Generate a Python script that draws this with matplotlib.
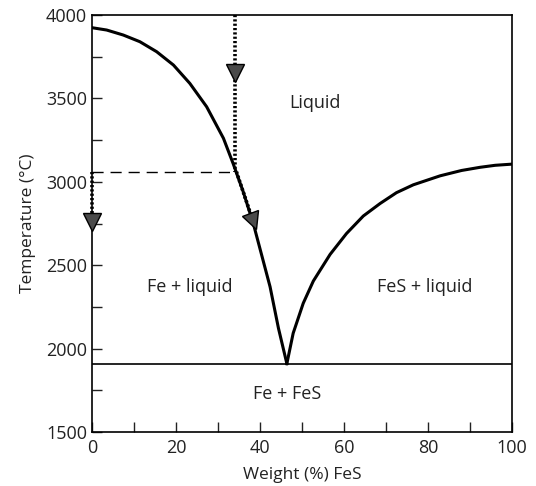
import matplotlib.pyplot as plt
import numpy as np
from matplotlib.markers import MarkerStyle
from matplotlib.transforms import Affine2D

plt.rcParams['font.family'] = ['Open Sans', 'DejaVu Sans']

# Liquidus del lado del Fe (x = % en peso de FeS, y = temperatura en °C)
fe_x = [0, 3.5, 7.45, 11.4, 15.4, 19.4, 23.3, 27.3, 31.3, 33.6, 36.0,
        38.4, 40.4, 42.4, 44.4, 46.4]
fe_y = [3924, 3910, 3880, 3840, 3780, 3700, 3590, 3450, 3261, 3110, 2941,
        2751, 2561, 2371, 2122, 1910]

# Liquidus del lado del FeS
fes_x = [46.4, 47.9, 50.3, 52.7, 56.7, 60.6, 64.6, 68.6, 72.5, 76.5,
         82.9, 88.0, 92.4, 96.0, 100]
fes_y = [1910, 2092, 2272, 2405, 2565, 2690, 2795, 2870, 2935, 2982,
         3036, 3068, 3087, 3099, 3106]

eutectica = 1905
comp_inicial = 34
temp_corte = 3060

etiquetas = ['Liquid', 'Fe + liquid', 'FeS + liquid', 'Fe + FeS']
etiq_x = [53, 23.3, 79.3, 46.4]
etiq_y = [3470, 2370, 2370, 1730]

fig = plt.figure(figsize=(5.36, 4.86), dpi=100)
ax = fig.add_axes([0.1716, 0.1111, 0.7836, 0.858])

ax.plot(fe_x, fe_y, color='black', lw=2.2, zorder=3, solid_joinstyle='round')
ax.plot(fes_x, fes_y, color='black', lw=2.2, zorder=3, solid_joinstyle='round')
ax.axhline(eutectica, color='black', lw=1.2)

# Trayectoria de enfriamiento (punteada)
ax.plot([comp_inicial, comp_inicial], [4000, temp_corte], color='black',
        lw=2.6, ls=(0, (0.6, 0.6)), zorder=4)
ax.plot([comp_inicial + 0.4, 38.5], [temp_corte, 2753], color='black',
        lw=2.6, ls=(0, (0.6, 0.6)), zorder=4)
ax.plot([0, comp_inicial], [temp_corte, temp_corte], color='black',
        lw=1.0, ls=(0, (8, 5)))
ax.plot([0, 0], [temp_corte, 2760], color='black', lw=2.6,
        ls=(0, (0.6, 0.6)), zorder=4, clip_on=False)

# Puntas de flecha
flecha = MarkerStyle('v')
ax.plot(comp_inicial, 3652, marker=flecha, ms=13, mfc='#4a4a4a',
        mec='black', mew=1, zorder=5)
ax.plot(0, 2759, marker=flecha, ms=13, mfc='#4a4a4a', mec='black',
        mew=1, zorder=5, clip_on=False)
flecha_rot = MarkerStyle('v', transform=Affine2D().rotate_deg(20))
ax.plot(38.3, 2765, marker=flecha_rot, ms=12, mfc='#4a4a4a',
        mec='black', mew=1, zorder=5)

for t, x, y in zip(etiquetas, etiq_x, etiq_y):
    ax.text(x, y, t, ha='center', va='center', fontsize=13, color='#222222')

ax.set_xlim(0, 100)
ax.set_ylim(1500, 4000)
ax.set_xticks(np.arange(0, 101, 20))
ax.set_xticks(np.arange(0, 101, 10), minor=True)
ax.set_yticks(np.arange(1500, 4001, 500))
ax.set_yticks(np.arange(1500, 4001, 250), minor=True)
ax.tick_params(which='both', direction='in', top=False, right=False,
               labelsize=13, colors='#222222')
ax.tick_params(which='major', length=7, width=1)
ax.tick_params(which='minor', length=7, width=1)
ax.tick_params(axis='x', pad=5)
for s in ax.spines.values():
    s.set_linewidth(1.2)

ax.set_xlabel('Weight (%) FeS', fontsize=12.5, color='#222222', labelpad=7)
ax.set_ylabel('Temperature (°C)', fontsize=12.5, color='#222222', labelpad=7)

fig.savefig('out.png', dpi=100)
